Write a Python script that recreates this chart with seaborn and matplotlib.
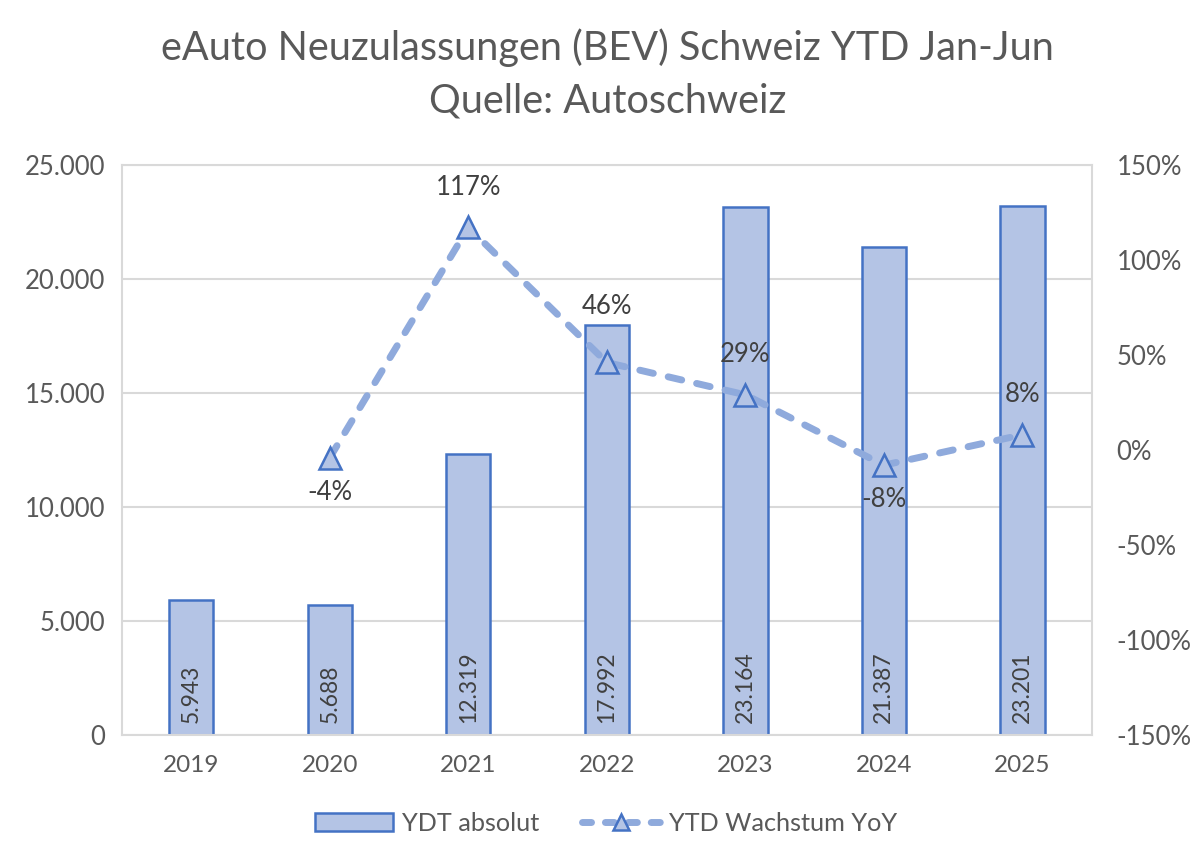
import matplotlib
matplotlib.use("Agg")
import matplotlib.pyplot as plt
import matplotlib.ticker as mticker
from matplotlib.lines import Line2D
from matplotlib.patches import Patch
import seaborn as sns
import pandas as pd

## data
years = ["2019", "2020", "2021", "2022", "2023", "2024", "2025"]
ytd_absolut = [5943, 5688, 12319, 17992, 23164, 21387, 23201]
ytd_growth = [None, -4, 117, 46, 29, -8, 8]

bar_fill = "#B4C4E5"
bar_edge = "#4472C4"
line_col = "#8FAADC"
text_col = "#595959"


def de_thousands(v, pos=None):
    return f"{int(v):,}".replace(",", ".")


sns.set_theme(style="white")
plt.rcParams["font.family"] = ["Lato", "DejaVu Sans"]

df = pd.DataFrame({"year": years, "abs": ytd_absolut, "growth": ytd_growth})

fig = plt.figure(figsize=(12, 8.67), dpi=100)
ax = fig.add_axes([0.1017, 0.152, 0.808, 0.658])

# bars
sns.barplot(data=df, x="year", y="abs", color=bar_fill, width=0.32,
            edgecolor=bar_edge, linewidth=1.8, saturation=1, ax=ax)
ax.set_ylim(0, 25000)
ax.yaxis.set_major_locator(mticker.MultipleLocator(5000))
ax.yaxis.set_major_formatter(mticker.FuncFormatter(de_thousands))
ax.grid(axis="y", color="#D9D9D9", linewidth=1.5)
ax.set_axisbelow(True)
ax.set_xlabel("")
ax.set_ylabel("")
ax.tick_params(axis="y", labelsize=18.5, colors=text_col, length=0, pad=12)
ax.tick_params(axis="x", labelsize=17.5, colors=text_col, length=0, pad=14)
for s in ax.spines.values():
    s.set_color("#D9D9D9")
    s.set_linewidth(1.5)

# labels inside bars
for i, v in enumerate(ytd_absolut):
    ax.text(i, 550, de_thousands(v), rotation=90, ha="center", va="bottom",
            fontsize=16.5, color="#404040")

# growth line on secondary axis
ax2 = ax.twinx()
gx = [i for i, g in enumerate(ytd_growth) if g is not None]
gy = [g for g in ytd_growth if g is not None]
ax2.plot(gx, gy, color=line_col, linewidth=5, linestyle=(0, (2.0, 2.2)),
         dash_capstyle="round", marker="^", markersize=16,
         markerfacecolor=bar_fill, markeredgecolor=bar_edge,
         markeredgewidth=1.8, zorder=3)
ax2.set_ylim(-150, 150)
ax2.yaxis.set_major_locator(mticker.MultipleLocator(50))
ax2.yaxis.set_major_formatter(mticker.FuncFormatter(lambda v, p: f"{int(v)}%"))
ax2.tick_params(axis="y", labelsize=18.5, colors=text_col, length=0, pad=18)
ax2.grid(False)
for s in ax2.spines.values():
    s.set_visible(False)

# label offsets (points): below for negatives, lifted above the bar for 2022
label_dy = [0, -25, 29, 40, 29, -25, 29]
for i, g in enumerate(ytd_growth):
    if g is None:
        continue
    ax2.annotate(f"{g}%", (i, g), xytext=(0, label_dy[i]), textcoords="offset points",
                 ha="center", va="center", fontsize=18.5, color="#404040")

ax.set_xlim(-0.5, 6.5)

# title
fig.text(0.506, 0.945, "eAuto Neuzulassungen (BEV) Schweiz YTD Jan-Jun",
         ha="center", va="center", fontsize=28.5, color=text_col)
fig.text(0.506, 0.884, "Quelle: Autoschweiz",
         ha="center", va="center", fontsize=28.5, color=text_col)

# legend
handles = [
    Patch(facecolor=bar_fill, edgecolor=bar_edge, linewidth=1.8, label="YDT absolut"),
    Line2D([0], [0], color=line_col, linewidth=5, linestyle=(0, (1.3, 2.0)),
           dash_capstyle="round", marker="^", markersize=12,
           markerfacecolor=bar_fill, markeredgecolor=bar_edge,
           markeredgewidth=1.8, label="YTD Wachstum YoY"),
]
leg = fig.legend(handles=handles, loc="center", bbox_to_anchor=(0.505, 0.05),
                 ncol=2, frameon=False, fontsize=18.2, handlelength=3.1,
                 columnspacing=1.66, handletextpad=0.35)
for t in leg.get_texts():
    t.set_color(text_col)

fig.savefig("out.png", dpi=100)
